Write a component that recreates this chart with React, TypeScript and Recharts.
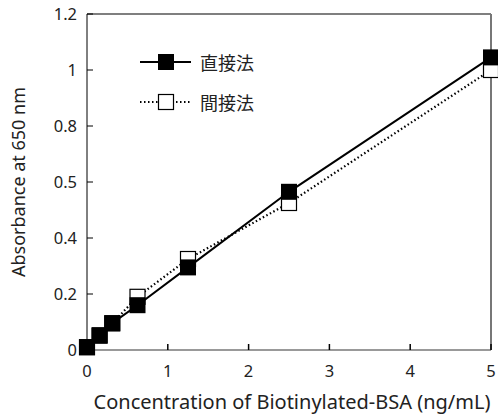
import { LineChart, Line, XAxis, YAxis, ReferenceLine } from 'recharts';

const concentrations = [0, 0.156, 0.3125, 0.625, 1.25, 2.5, 5];
const directValues = [0.01, 0.053, 0.096, 0.16, 0.295, 0.565, 1.045];
const indirectValues = [0.01, 0.051, 0.095, 0.19, 0.325, 0.525, 1.0];
const xTicks = [0, 1, 2, 3, 4, 5];
const yTicks = [0, 0.2, 0.4, 0.6, 0.8, 1, 1.2];
const yTickLabels = ['0', '0.2', '0.4', '0.5', '0.8', '1', '1.2'];

const data = concentrations.map((c, i) => ({
  conc: c,
  direct: directValues[i],
  indirect: indirectValues[i],
}));

const FONT = '"Noto Sans", "Noto Sans CJK JP", sans-serif';

function FilledSquare(props: any) {
  const { cx, cy } = props;
  if (cx == null || cy == null) return null;
  return <rect x={cx - 8} y={cy - 8} width={16} height={16} fill="#000" />;
}

function OpenSquare(props: any) {
  const { cx, cy } = props;
  if (cx == null || cy == null) return null;
  return (
    <rect x={cx - 7.5} y={cy - 7.5} width={15} height={15} fill="#fff" stroke="#000" strokeWidth={1.2} />
  );
}

function LegendBox() {
  const rows = [
    { name: '直接法', dash: undefined, filled: true },
    { name: '間接法', dash: '1.5 2.5', filled: false },
  ];
  return (
    <div
      style={{
        position: 'absolute',
        left: 140,
        top: 42,
        fontFamily: '"Noto Sans CJK JP", sans-serif',
        fontSize: 18,
        color: '#222',
      }}
    >
      {rows.map((r) => (
        <div key={r.name} style={{ display: 'flex', alignItems: 'center', height: 40 }}>
          <svg width={56} height={20}>
            <line x1={0} y1={10} x2={51} y2={10} stroke="#000" strokeWidth={2} strokeDasharray={r.dash} />
            {r.filled ? (
              <rect x={18} y={2} width={16} height={16} fill="#000" />
            ) : (
              <rect x={18.5} y={2.5} width={15} height={15} fill="#fff" stroke="#000" strokeWidth={1.2} />
            )}
          </svg>
          <span style={{ marginLeft: 4 }}>{r.name}</span>
        </div>
      ))}
    </div>
  );
}

export default function App() {
  return (
    <div style={{ position: 'absolute', left: 0, top: 0, width: 498, height: 414, background: '#fff' }}>
      <LineChart
        width={498}
        height={414}
        data={data}
        margin={{ top: 14, right: 7, bottom: 0, left: 0 }}
        style={{ fontFamily: FONT }}
      >
        <XAxis
          dataKey="conc"
          type="number"
          domain={[0, 5]}
          ticks={xTicks}
          height={64}
          stroke="#777"
          strokeWidth={1.5}
          tickSize={-6}
          tickMargin={21}
          tick={{ fill: '#222', fontSize: 16.5 }}
          tickLine={{ stroke: '#000' }}
          label={{
            value: 'Concentration of Biotinylated-BSA (ng/mL)',
            position: 'insideBottom',
            offset: 5,
            dx: 3,
            fill: '#222',
            fontSize: 20,
          }}
        />
        <YAxis
          type="number"
          domain={[0, 1.2]}
          ticks={yTicks}
          width={87}
          stroke="#000"
          tickSize={-6}
          tickMargin={16}
          tick={{ fill: '#222', fontSize: 16.5 }}
          tickFormatter={(v: number) => yTickLabels[yTicks.indexOf(v)] ?? String(v)}
          label={{
            value: 'Absorbance at 650 nm',
            angle: -90,
            position: 'insideLeft',
            offset: 19,
            fill: '#222',
            fontSize: 18,
            style: { textAnchor: 'middle' },
          }}
        />
        <ReferenceLine y={1.2} stroke="#000" strokeWidth={1.2} />
        <ReferenceLine x={5} stroke="#777" strokeWidth={2} />
        <Line
          dataKey="indirect"
          stroke="#000"
          strokeWidth={2.2}
          strokeDasharray="1.5 2.5"
          dot={<OpenSquare />}
          activeDot={false}
          isAnimationActive={false}
        />
        <Line
          dataKey="direct"
          stroke="#000"
          strokeWidth={2}
          dot={<FilledSquare />}
          activeDot={false}
          isAnimationActive={false}
        />
      </LineChart>
      <LegendBox />
    </div>
  );
}
